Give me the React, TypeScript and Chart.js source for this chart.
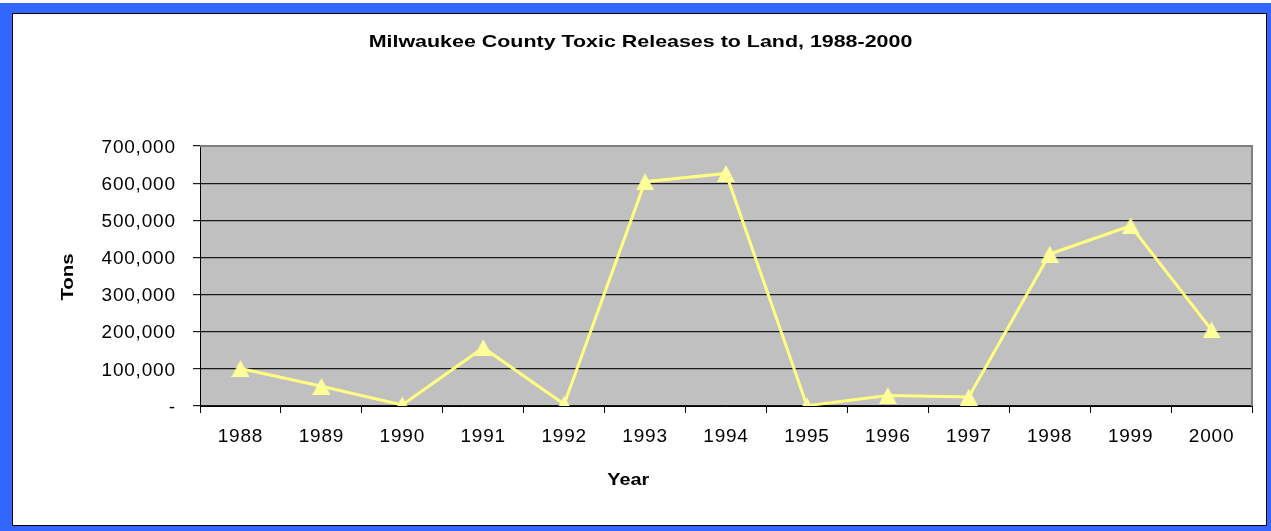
import { useEffect, useRef } from "react";
import { Chart, registerables } from "chart.js";

Chart.register(...registerables);

// Milwaukee County toxic releases to land, tons per year
const years = ["1988", "1989", "1990", "1991", "1992", "1993", "1994", "1995", "1996", "1997", "1998", "1999", "2000"];
const tons = [101000, 53000, 3000, 157000, 5000, 604000, 626000, 1000, 28000, 24000, 409000, 485000, 205000];
const yTicks = [0, 100000, 200000, 300000, 400000, 500000, 600000, 700000];

const chartTitle = "Milwaukee County Toxic Releases to Land, 1988-2000";
const yTitle = "Tons";
const xTitle = "Year";

const FONT = '"Liberation Sans", Arial, sans-serif';

function makeTriangle(): HTMLCanvasElement {
  const c = document.createElement("canvas");
  c.width = 18;
  c.height = 17;
  const g = c.getContext("2d")!;
  g.fillStyle = "#FFFF99";
  g.beginPath();
  g.moveTo(9, 0);
  g.lineTo(18, 17);
  g.lineTo(0, 17);
  g.closePath();
  g.fill();
  return c;
}

// Draws a bold caption, widened horizontally along its own direction.
function wideText(ctx: CanvasRenderingContext2D, text: string, x: number, y: number, size: number, sx: number, rot = 0) {
  ctx.save();
  (ctx as any).letterSpacing = "0px";
  ctx.translate(x, y);
  ctx.rotate(rot);
  ctx.scale(sx, 1);
  ctx.font = `bold ${size}px ${FONT}`;
  ctx.fillStyle = "#000";
  ctx.textAlign = "center";
  ctx.textBaseline = "alphabetic";
  ctx.fillText(text, 0, 0);
  ctx.restore();
}

const plotFrame = {
  id: "plotFrame",
  beforeDraw(chart: any) {
    const { ctx, chartArea: a } = chart;
    ctx.save();
    ctx.fillStyle = "#C0C0C0";
    ctx.fillRect(a.left, a.top, a.right - a.left, a.bottom - a.top);
    ctx.restore();
    (ctx as any).letterSpacing = "0.8px";
  },
  beforeDatasetsDraw(chart: any) {
    const { ctx, chartArea: a } = chart;
    ctx.save();
    ctx.strokeStyle = "#808080";
    ctx.lineWidth = 2;
    ctx.beginPath();
    ctx.moveTo(a.left, a.top);
    ctx.lineTo(a.right, a.top);
    ctx.lineTo(a.right, a.bottom);
    ctx.stroke();
    ctx.restore();
  },
  afterDraw(chart: any) {
    const { ctx } = chart;
    wideText(ctx, chartTitle, 627.5, 33, 17, 1.26);
    wideText(ctx, xTitle, 615.3, 471, 17, 1.17);
    wideText(ctx, yTitle, 60, 263, 17, 1.2, -Math.PI / 2);
  },
};

export default function App() {
  const ref = useRef<HTMLCanvasElement>(null);

  useEffect(() => {
    const canvas = ref.current!;
    const chart = new Chart(canvas, {
      type: "line",
      data: {
        labels: years,
        datasets: [
          {
            data: tons,
            borderColor: "#FFFF80",
            borderWidth: 3,
            pointStyle: makeTriangle() as any,
            pointRadius: 9,
            pointHoverRadius: 9,
            tension: 0,
          },
        ],
      },
      options: {
        animation: false,
        responsive: false,
        maintainAspectRatio: false,
        devicePixelRatio: 1,
        layout: { padding: { left: 0, right: 14, top: 132, bottom: 0 } },
        plugins: {
          legend: { display: false },
          title: { display: false },
          tooltip: { enabled: false },
        },
        scales: {
          x: {
            type: "category",
            offset: true,
            grid: {
              offset: true,
              drawOnChartArea: false,
              drawTicks: true,
              tickLength: 7,
              color: "#000",
            },
            border: { display: true, color: "#000", width: 1 },
            ticks: {
              autoSkip: false,
              maxRotation: 0,
              padding: 11.9,
              color: "#000",
              font: { family: FONT, size: 19 },
            },
            afterFit(scale: any) {
              scale.height = 119;
            },
          },
          y: {
            min: 0,
            max: 700000,
            grid: {
              color: "#1a1a1a",
              lineWidth: 1.2,
              drawTicks: true,
              tickLength: 7,
            },
            border: { display: true, color: "#000", width: 1 },
            afterBuildTicks(scale: any) {
              scale.ticks = yTicks.map((v) => ({ value: v }));
            },
            ticks: {
              padding: 17.2,
              color: "#000",
              labelOffset: 1.5,
              font: { family: FONT, size: 19 },
              callback: (v: any) => (Number(v) === 0 ? "-" : Number(v).toLocaleString("en-US")),
            },
            afterFit(scale: any) {
              scale.width = 187;
            },
          },
        },
      },
      plugins: [plotFrame],
    });
    return () => chart.destroy();
  }, []);

  return (
    <div style={{ position: "fixed", left: 0, top: 0, width: 1271, height: 531, background: "#fff" }}>
      <div style={{ position: "absolute", left: 0, top: 3, width: 1271, height: 528, background: "#3366FF" }} />
      <div
        style={{
          position: "absolute",
          left: 12,
          top: 13,
          width: 1255,
          height: 513,
          boxSizing: "border-box",
          border: "1px solid #000",
          background: "#fff",
        }}
      >
        <canvas ref={ref} width={1253} height={511} style={{ display: "block", width: 1253, height: 511 }} />
      </div>
    </div>
  );
}
